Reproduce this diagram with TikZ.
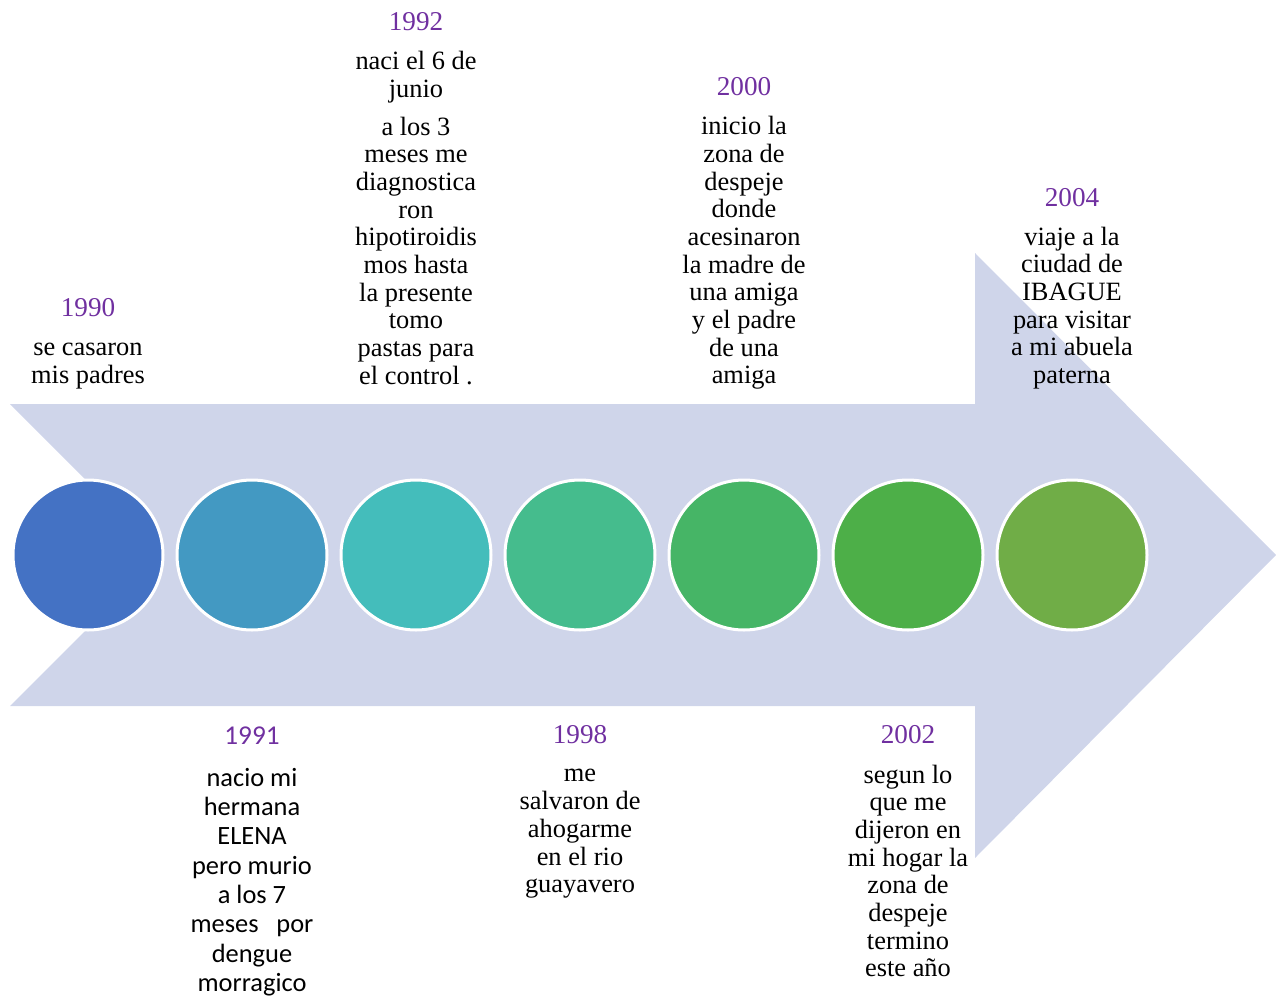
\documentclass[tikz,border=0pt]{standalone}
\usepackage{fontspec}
\setmainfont{Liberation Serif}
\newfontfamily\calibrifont{Carlito}
\definecolor{arrowfill}{HTML}{CFD5EA}
\definecolor{yearcol}{HTML}{7030A0}
\definecolor{dotA}{HTML}{4472C4}
\definecolor{dotB}{HTML}{4399C2}
\definecolor{dotC}{HTML}{44BDBB}
\definecolor{dotD}{HTML}{45BC8D}
\definecolor{dotE}{HTML}{46B566}
\definecolor{dotF}{HTML}{4DAF48}
\definecolor{dotG}{HTML}{70AD47}

\begin{document}
\begin{tikzpicture}[x=0.5pt,y=-0.5pt,
  dot/.style={circle,draw=white,line width=1.5pt,minimum size=75pt,inner sep=0pt},
  year/.style={text=yearcol,inner sep=0pt,font=\fontsize{13.6pt}{14pt}\selectfont},
  event/.style={align=center,inner sep=0pt,font=\fontsize{13.2pt}{13.85pt}\selectfont},
  eventsans/.style={align=center,inner sep=0pt,font=\calibrifont\fontsize{13.2pt}{14.65pt}\selectfont}]
\useasboundingbox (0,0) rectangle (1276,996);
% timeline arrow
\fill[arrowfill] (10,404) -- (975,404) -- (975,253) -- (1276,555) -- (975,858)
  -- (975,706) -- (10,706) -- (161,555) -- cycle;
% dots
\node[dot,fill=dotA] (d1990) at (88,555) {};
\node[dot,fill=dotB] (d1991) at (252,555) {};
\node[dot,fill=dotC] (d1992) at (416,555) {};
\node[dot,fill=dotD] (d1998) at (580,555) {};
\node[dot,fill=dotE] (d2000) at (744,555) {};
\node[dot,fill=dotF] (d2002) at (908,555) {};
\node[dot,fill=dotG] (d2004) at (1072,555) {};
% above the arrow
\node[year] (y1990) at (88,308) {1990};
\node[event] (t1990) at (88,366) {se casaron\\mis padres};
\node[year] (y1992) at (416,22) {1992};
\node[event] (t1992) at (416,218) {naci el 6 de\\junio\\[5pt]a los 3\\meses me\\diagnostica\\ron\\hipotiroidis\\mos hasta\\la presente\\tomo\\pastas para\\el control .};
\node[year] (y2000) at (744,87) {2000};
\node[event] (t2000) at (744,253) {inicio la\\zona de\\despeje\\donde\\acesinaron\\la madre de\\una amiga\\y el padre\\de una\\amiga};
\node[year] (y2004) at (1072,198) {2004};
\node[event] (t2004) at (1072,308) {viaje a la\\ciudad de\\IBAGUE\\para visitar\\a mi abuela\\paterna};
% below the arrow
\node[year,font=\calibrifont\fontsize{13.6pt}{14.65pt}\selectfont] (y1991) at (252,736) {1991};
\node[eventsans] (t1991) at (252,882) {nacio mi\\hermana\\ELENA\\pero murio\\a los 7\\meses\ \ \ por\\dengue\\morragico};
\node[year] (y1998) at (580,735) {1998};
\node[event] (t1998) at (580,834) {me\\salvaron de\\ahogarme\\en el rio\\guayavero};
\node[year] (y2002) at (908,735) {2002};
\node[event] (t2002) at (908,871) {segun lo\\que me\\dijeron en\\mi hogar la\\zona de\\despeje\\termino\\este a\~no};
\end{tikzpicture}
\end{document}
